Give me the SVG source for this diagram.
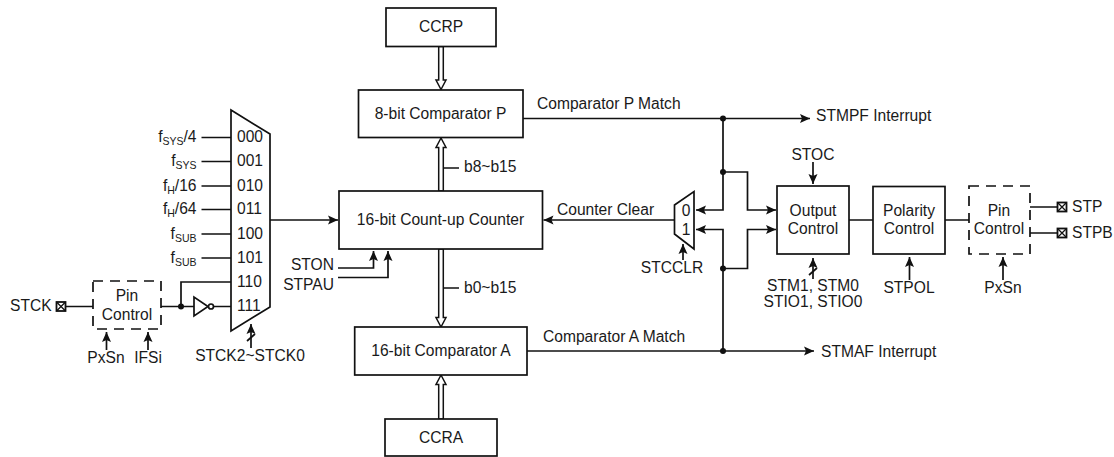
<svg xmlns="http://www.w3.org/2000/svg" width="1114" height="457" viewBox="0 0 1114 457">
<style>
text{font-family:"Liberation Sans",Arial,sans-serif;font-size:15.6px;fill:#1a1a1a}
.m{text-anchor:middle}.e{text-anchor:end}
.s{font-size:10.5px}
.b{fill:#fff;stroke:#111;stroke-width:1.7}
.d{fill:none;stroke:#111;stroke-width:1.7;stroke-dasharray:10 7}
.l{fill:none;stroke:#111;stroke-width:1.7}
.a{fill:none;stroke:#111;stroke-width:1.7;marker-end:url(#ah)}
.bus{fill:#fff;stroke:#111;stroke-width:1.5}
.dot{fill:#111}
.pin{fill:#fff;stroke:#111;stroke-width:1.8}
.x{fill:none;stroke:#111;stroke-width:1.3}
</style>
<defs>
<marker id="ah" markerUnits="userSpaceOnUse" markerWidth="11" markerHeight="10" refX="10" refY="5" orient="auto"><path d="M0 0.500L10 5L0 9.500L2 5Z" fill="#111"/></marker>
<g id="pinmark"><rect class="pin" x="-4.500" y="-4.500" width="9" height="9"/><path class="x" d="M-4.500 -4.500L4.500 4.500M4.500 -4.500L-4.500 4.500"/></g>
</defs>
<g id="connectors">
<path class="bus" d="M438.700 46.500V80H436L441 89.500L446 80H443.300V46.500Z"/>
<path class="bus" d="M438.700 191V147.500H436L441 138L446 147.500H443.300V191Z"/>
<path class="bus" d="M438.700 249V317.500H436L441 327L446 317.500H443.300V249Z"/>
<path class="bus" d="M438.700 419V384.500H436L441 375L446 384.500H443.300V419Z"/>
<path class="l" d="M443.500 168H459M443.500 288H459"/>
<path class="l" d="M201.500 137.500H231M201.500 161.500H231M201.500 186H231M201.500 209.500H231M201.500 234H231M201.500 258H231"/>
<path class="l" d="M66 306.500H93M161 306.500H194M181 306.500V282H231M214 306.500H231"/>
<path class="a" d="M270 220H338"/>
<path class="a" d="M106.500 350V332"/>
<path class="a" d="M148 350V332"/>
<path class="a" d="M251 348V324"/>
<path class="l" d="M247 341L255 334"/>
<path class="a" d="M338 268H373.500V251"/>
<path class="a" d="M338 277.500H388V251"/>
<path class="a" d="M674 220H543.500"/>
<path class="a" d="M523 118.500H810"/>
<path class="a" d="M527 351H814"/>
<path class="a" d="M723 118.500V210H696"/>
<path class="a" d="M723 351V229.500H696"/>
<path class="a" d="M723 172H747.500V210H776"/>
<path class="a" d="M723 268.500H747.500V229.500H776"/>
<path class="a" d="M683 260V244"/>
<path class="a" d="M813 162V184"/>
<path class="a" d="M813 279V258"/>
<path class="l" d="M809 275L817 268"/>
<path class="l" d="M849 220H873M945 220H969"/>
<path class="a" d="M909.500 280V257"/>
<path class="a" d="M1003 280V257"/>
<path class="l" d="M1030 207H1057M1030 233H1057"/>
<g class="dot"><circle cx="181" cy="306.500" r="3"/><circle cx="723" cy="118.500" r="3"/><circle cx="723" cy="172" r="3"/><circle cx="723" cy="268.500" r="3"/><circle cx="723" cy="351" r="3"/></g>
</g>
<g id="ccrp"><rect class="b" x="386" y="8" width="110" height="38.500"/><text class="m" x="441" y="32">CCRP</text></g>
<g id="comparator-p"><rect class="b" x="358.500" y="90" width="164.500" height="47.500"/><text class="m" x="440.500" y="119">8-bit Comparator P</text></g>
<g id="counter"><rect class="b" x="339" y="191" width="203.500" height="58"/><text class="m" x="440.500" y="225">16-bit Count-up Counter</text></g>
<g id="comparator-a"><rect class="b" x="354.700" y="327" width="172.300" height="48"/><text class="m" x="441" y="356">16-bit Comparator A</text></g>
<g id="ccra"><rect class="b" x="385" y="419" width="112" height="37"/><text class="m" x="441" y="443">CCRA</text></g>
<g id="clock-mux"><path class="b" d="M231 110L270 134V307L231 331Z"/>
<text x="237" y="142">000</text><text x="237" y="166">001</text><text x="237" y="191">010</text><text x="237" y="214">011</text><text x="237" y="239">100</text><text x="237" y="263">101</text><text x="237" y="287">110</text><text x="237" y="311">111</text></g>
<g id="clock-labels">
<text class="e" x="196.500" y="142">f<tspan class="s" dy="3">SYS</tspan><tspan dy="-3">/4</tspan></text>
<text class="e" x="196.500" y="166">f<tspan class="s" dy="3">SYS</tspan></text>
<text class="e" x="196.500" y="191">f<tspan class="s" dy="3">H</tspan><tspan dy="-3">/16</tspan></text>
<text class="e" x="196.500" y="214">f<tspan class="s" dy="3">H</tspan><tspan dy="-3">/64</tspan></text>
<text class="e" x="196.500" y="239">f<tspan class="s" dy="3">SUB</tspan></text>
<text class="e" x="196.500" y="263">f<tspan class="s" dy="3">SUB</tspan></text>
<text class="m" x="250" y="361">STCK2~STCK0</text>
</g>
<g id="inverter"><path class="b" d="M194 297V316L208 306.500Z"/><circle class="b" cx="211" cy="306.500" r="2.500"/></g>
<g id="pin-control-in"><rect class="d" x="93" y="281" width="68" height="48"/><text class="m" x="127" y="301">Pin</text><text class="m" x="127" y="320">Control</text></g>
<g id="stck"><use href="#pinmark" x="61" y="306.500"/><text x="10" y="311">STCK</text></g>
<g id="stck-labels"><text class="m" x="106" y="363">PxSn</text><text class="m" x="148" y="363">IFSi</text><text class="e" x="334" y="270">STON</text><text class="e" x="334" y="290">STPAU</text></g>
<g id="clear-mux"><path class="b" d="M674.500 205L694 191.500V249L674.500 234Z"/><text class="m" x="686" y="216">0</text><text class="m" x="686" y="235">1</text></g>
<g id="output-control"><rect class="b" x="777" y="186" width="72" height="68"/><text class="m" x="813" y="216">Output</text><text class="m" x="813" y="234">Control</text></g>
<g id="polarity-control"><rect class="b" x="873" y="186.500" width="72" height="67.500"/><text class="m" x="909" y="216">Polarity</text><text class="m" x="909" y="234">Control</text></g>
<g id="pin-control-out"><rect class="d" x="969" y="186" width="61" height="68"/><text class="m" x="999" y="216">Pin</text><text class="m" x="999" y="234">Control</text></g>
<g id="stp"><use href="#pinmark" x="1062" y="207"/><text x="1072" y="212">STP</text></g>
<g id="stpb"><use href="#pinmark" x="1062" y="233"/><text x="1072" y="238">STPB</text></g>
<g id="labels">
<text x="537" y="109">Comparator P Match</text><text x="543" y="342">Comparator A Match</text>
<text x="557" y="215">Counter Clear</text>
<text x="464" y="172">b8~b15</text><text x="464" y="293">b0~b15</text>
<text x="816" y="121">STMPF Interrupt</text><text x="821" y="357">STMAF Interrupt</text>
<text class="m" x="813" y="160">STOC</text><text class="m" x="813" y="291">STM1, STM0</text><text class="m" x="813" y="307">STIO1, STIO0</text>
<text class="m" x="672" y="273">STCCLR</text><text class="m" x="909" y="293">STPOL</text><text class="m" x="1003" y="293">PxSn</text>
</g>
</svg>
